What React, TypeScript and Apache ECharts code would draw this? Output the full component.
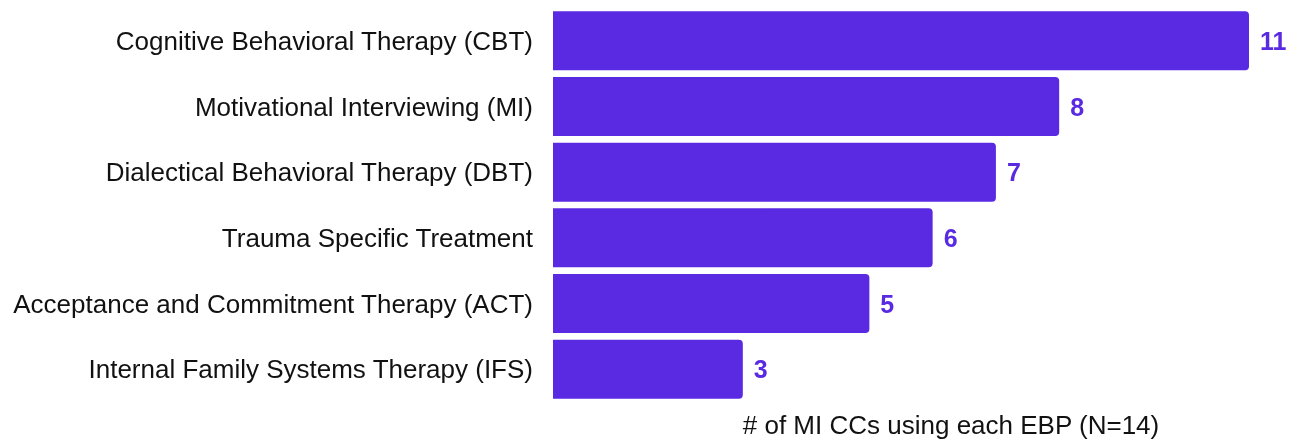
import React, { useEffect, useRef } from "react";
import * as echarts from "echarts";

const categories = [
  "Cognitive Behavioral Therapy (CBT)",
  "Motivational Interviewing (MI)",
  "Dialectical Behavioral Therapy (DBT)",
  "Trauma Specific Treatment",
  "Acceptance and Commitment Therapy (ACT)",
  "Internal Family Systems Therapy (IFS)",
];
const values = [11, 8, 7, 6, 5, 3];
const axisName = "# of MI CCs using each EBP (N=14)";

const FONT = "'Liberation Sans', Arial, Helvetica, sans-serif";
const BAR = "#5a2ae3";

export default function App() {
  const ref = useRef<HTMLDivElement>(null);
  useEffect(() => {
    if (!ref.current) return;
    const chart = echarts.init(ref.current, null, { renderer: "svg" });
    chart.setOption({
      animation: false,
      grid: { left: 553, right: 49, top: 8, bottom: 39, containLabel: false },
      xAxis: {
        type: "value",
        min: 0,
        max: 11,
        axisLine: { show: false },
        axisTick: { show: false },
        axisLabel: { show: false },
        splitLine: { show: false },
        name: axisName,
        nameLocation: "middle",
        nameGap: 10,
        nameTextStyle: {
          fontFamily: FONT,
          fontSize: 26,
          color: "#111",
          padding: [0, 0, 0, 100],
        },
      },
      yAxis: {
        type: "category",
        data: categories,
        inverse: true,
        axisLine: { show: false },
        axisTick: { show: false },
        axisLabel: {
          margin: 20,
          fontFamily: FONT,
          fontSize: 26,
          color: "#111",
        },
      },
      series: [
        {
          type: "bar",
          data: values,
          barWidth: 59,
          itemStyle: { color: BAR, borderRadius: [0, 4, 4, 0] },
          label: {
            show: true,
            position: "right",
            distance: 11,
            fontFamily: FONT,
            fontSize: 25,
            fontWeight: "bold",
            color: BAR,
          },
        },
      ],
    });
    return () => chart.dispose();
  }, []);
  return (
    <div
      ref={ref}
      style={{ position: "fixed", left: 0, top: 0, width: 1298, height: 443 }}
    />
  );
}
